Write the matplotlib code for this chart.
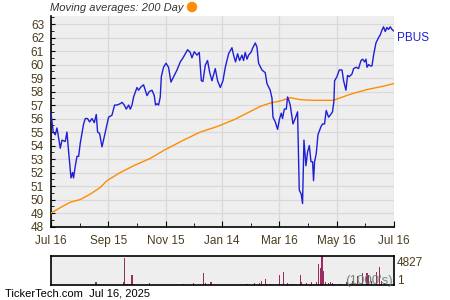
import matplotlib
matplotlib.use("Agg")
import matplotlib.pyplot as plt
from matplotlib.ticker import MultipleLocator, FixedLocator
from matplotlib.patches import Ellipse

# -----------------------------
# DATA (days since Jul 16, 2024)
# -----------------------------
price_days = [0, 2.4, 4.6, 6.4, 9.9, 11.7, 15.2, 17.0, 18.7, 21.3, 23.0, 24.0, 25.9, 27.7, 29.4,
              31.2, 34.7, 36.5, 38.9, 41.1, 43.6, 46.1, 48.2, 49.6, 51.7, 54.3, 57.8, 61.3, 64.9,
              67.7, 70.2, 73.6, 75.6, 78.0, 80.1, 82.6, 84.4, 86.2, 87.9, 91.5, 93.2, 95.8, 98.5,
              102.2, 104.6, 107.5, 109.9, 111.3, 112.8, 114.5, 116.3, 117.4, 119.8, 122.4, 125.1,
              127.7, 130.5, 134.1, 137.6, 140.5, 142.9, 145.4, 148.2, 150.0, 152.5, 155.4, 157.8,
              160.0, 161.7, 164.2, 166.6, 168.8, 171.3, 174.8, 177.3, 180.2, 183.0, 185.5, 189.0,
              192.6, 194.3, 196.4, 198.6, 200.7, 203.2, 204.9, 206.7, 208.6, 210.3, 212.8, 214.5,
              217.4, 219.2, 220.9, 224.5, 228.0, 229.8, 233.3, 235.2, 236.2, 238.7, 241.1, 243.3,
              245.1, 246.4, 248.3, 250.4, 251.8, 253.3, 254.6, 257.5, 259.9, 262.4, 264.2, 266.3,
              267.7, 269.2, 271.3, 273.0, 274.9, 276.7, 278.4, 279.4, 280.5, 282.3, 284.1, 287.3,
              289.0, 291.1, 292.9, 295.4, 297.2, 299.6, 301.1, 301.8, 304.3, 306.8, 309.7, 311.4,
              313.9, 315.6, 317.4, 320.3, 322.0, 324.9, 327.3, 329.9, 331.6, 333.7, 335.2, 336.3,
              338.0, 339.8, 341.6, 343.3, 345.8, 348.6, 350.4, 352.2, 353.9, 355.7, 357.5, 359.2,
              361.0, 362.9, 364.6]
price = [56.4, 55.0, 54.8, 55.3, 53.8, 54.4, 54.3, 55.0, 53.6, 51.6, 52.0, 51.6, 52.5, 53.2, 53.2,
         54.2, 55.6, 56.0, 56.0, 55.75, 56.0, 55.7, 56.3, 55.0, 54.9, 53.9, 55.0, 56.1, 56.25,
         57.0, 57.0, 57.1, 57.2, 57.0, 56.7, 57.0, 56.7, 57.0, 57.6, 58.3, 58.1, 58.35, 58.5,
         57.7, 58.0, 58.1, 57.7, 57.0, 57.1, 57.0, 57.6, 59.1, 59.8, 60.1, 59.8,
         58.7, 59.1, 59.6, 60.2, 60.5, 60.8, 61.1, 60.9, 60.5, 60.95, 60.7, 60.9,
         58.8, 58.75, 59.95, 60.3, 59.45, 58.8, 59.7, 58.8, 58.3, 58.8, 59.8, 60.8,
         61.25, 60.7, 60.2, 60.8, 60.3, 60.7, 60.3, 60.9, 60.4, 60.7, 60.9, 61.2,
         61.6, 61.3, 60.1, 59.6, 59.4, 58.6, 58.1, 57.5, 56.1, 55.75, 55.2, 56.0,
         56.4, 56.0, 56.7, 56.7, 57.6, 57.3, 57.0, 55.6, 56.0, 56.5, 50.7, 50.4,
         49.7, 54.4, 52.5, 53.5, 54.0, 52.8, 52.8, 51.4, 52.8, 53.4, 54.8, 55.4,
         55.6, 55.6, 56.6, 56.1, 56.25, 56.5, 57.3, 58.8, 59.1, 59.6, 59.6, 58.8,
         58.1, 59.2, 59.1, 59.3, 59.7, 59.8, 59.7, 60.3, 60.4, 60.2, 60.4, 59.8,
         60.0, 59.9, 59.9, 60.7, 61.6, 62.0, 62.2, 62.55, 62.8, 62.45, 62.75, 62.6,
         62.8, 62.6, 62.5]

ma_days = [0, 9.9, 20.5, 31.2, 41.8, 52.5, 59.6, 73.7, 87.9, 105.7, 121.6, 141.1, 158.9, 176.6,
           194.3, 208.6, 222.7, 233.4, 244.0, 254.6, 265.3, 279.4, 300.4, 318.5, 336.3,
           353.9, 365.3]
ma_200 = [49.0, 49.4, 49.8, 50.0, 50.4, 50.9, 51.4, 52.0, 52.5, 53.05, 53.7, 54.4, 55.0, 55.4,
          55.9, 56.4, 56.9, 57.15, 57.3, 57.55, 57.4, 57.35, 57.35, 57.8, 58.15,
          58.4, 58.6]

vol_days = [47.9, 77.3, 78.0, 79.8, 81.9, 83.3, 86.2, 104.9, 141.1, 151.7, 162.8, 164.2, 170.3,
            208.6, 216.7, 222.0, 224.5, 228.0, 229.8, 234.1, 243.3, 247.5, 251.8, 254.6,
            258.2, 265.3, 267.1, 272.4, 277.7, 282.3, 284.8, 286.6, 288.4, 290.1, 291.9,
            295.4, 297.2, 299.6, 301.8, 307.1, 315.0, 320.6, 325.9, 331.3, 336.3, 338.0,
            340.8, 346.9, 349.4, 351.5, 354.7]
volume = [480, 580, 4540, 240, 240, 190, 1690, 340, 145, 340, 2030, 390, 480,
          145, 290, 290, 720, 970, 190, 190, 1740, 2170, 290, 190,
          190, 1690, 430, 390, 480, 480, 3480, 2750, 4827, 2410, 480,
          390, 480, 340, 240, 240, 480, 720, 1450, 1930, 2030, 1690,
          720, 2170, 3040, 720, 390]

tick_days = [0, 61, 122, 182, 243, 304, 365]
tick_labels = ["Jul 16", "Sep 15", "Nov 15", "Jan 14", "Mar 16", "May 16", "Jul 16"]

# -----------------------------
# STYLE
# -----------------------------
plt.rcParams['font.family'] = ['Liberation Sans', 'DejaVu Sans']
BG = '#eeeeee'
GRID = '#d9d9d9'
LABEL = '#4a3c1c'

fig = plt.figure(figsize=(4.5, 3), dpi=100)

# -----------------------------
# PRICE PANEL
# -----------------------------
ax = fig.add_axes([0.1133, 0.245, 0.7622, 0.7017])
ax.set_facecolor(BG)
ax.plot(ma_days, ma_200, color='#ff8c00', lw=1.0, zorder=3)
ax.plot(price_days, price, color='#1f1fd6', lw=1.0, zorder=4)
ax.set_xlim(0, 365)
ax.set_ylim(48, 63.6)

ax.yaxis.set_major_locator(MultipleLocator(1))
ax.yaxis.set_minor_locator(MultipleLocator(0.5))
ax.xaxis.set_major_locator(FixedLocator(tick_days))
ax.xaxis.set_minor_locator(FixedLocator([(a + b) / 2 for a, b in zip(tick_days[:-1], tick_days[1:])]))
ax.set_xticklabels(tick_labels)
ax.tick_params(axis='both', which='both', direction='in', colors='black', labelcolor=LABEL, labelsize=8.5)
ax.tick_params(axis='y', which='major', length=3, pad=5)
ax.tick_params(axis='y', which='minor', length=2.5)
ax.tick_params(axis='x', which='major', length=4, pad=6)
ax.tick_params(axis='x', which='minor', length=3)
ax.grid(True, which='major', color=GRID, lw=0.9, zorder=0)
ax.set_axisbelow(True)
for s in ['top', 'right']:
    ax.spines[s].set_visible(False)
for s in ['left', 'bottom']:
    ax.spines[s].set_linewidth(1.2)

ax.text(1.008, 0.897, "PBUS", transform=ax.transAxes, color='#1f1fd6', fontsize=8.5,
        ha='left', va='center')

# -----------------------------
# VOLUME PANEL
# -----------------------------
vax = fig.add_axes([0.1133, 0.05, 0.7622, 0.0967])
vax.set_facecolor(BG)
vax.bar(vol_days, volume, width=1.1, color='#9b2c62', zorder=2)
vax.set_xlim(0, 365)
vax.set_ylim(0, 4827)
vax.set_xticks([])
vax.set_yticks([])
for s in vax.spines.values():
    s.set_linewidth(1.2)
vax.text(0.995, 0.13, "(1000's)", transform=vax.transAxes, color='#5f806a', fontsize=9.5,
         ha='right', va='center', alpha=0.9, zorder=3)
vax.text(1.008, 0.76, "4827", transform=vax.transAxes, color=LABEL, fontsize=8.5,
         ha='left', va='center')
vax.text(1.008, 0.13, "1", transform=vax.transAxes, color=LABEL, fontsize=8.5,
         ha='left', va='center')

# -----------------------------
# HEADER / FOOTER
# -----------------------------
fig.text(50 / 450, 1 - 8 / 300, "Moving averages: 200 Day", fontsize=8, style='italic',
         color='#333333', ha='left', va='center')
fig.patches.append(Ellipse((192 / 450, 1 - 7 / 300), 9 / 450, 9 / 300, color='#ff8c00',
                           transform=fig.transFigure, figure=fig))
fig.text(5 / 450, 1 - 294 / 300, "TickerTech.com  Jul 16, 2025", fontsize=8, color='black',
         ha='left', va='center')

fig.savefig("out.png", dpi=100)
